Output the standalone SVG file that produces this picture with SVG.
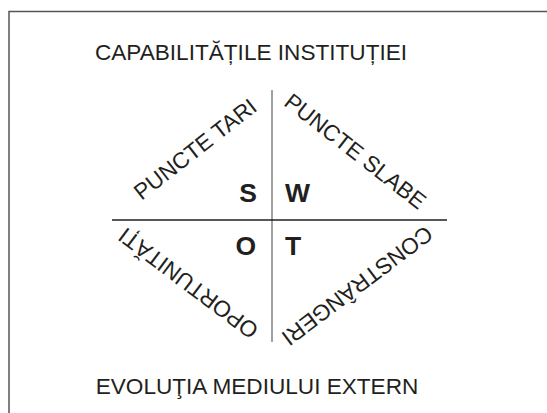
<svg xmlns="http://www.w3.org/2000/svg" width="547" height="413" viewBox="0 0 547 413">
<style>
.t{font-family:"Liberation Sans",Arial,sans-serif;font-size:22.6px;fill:#231f20}
.b{font-family:"Liberation Sans",Arial,sans-serif;font-size:26.5px;font-weight:bold;fill:#231f20}
.frame{fill:none;stroke:#555;stroke-width:1.5}
</style>
<rect width="547" height="413" fill="#fff"/>
<g id="frame"><path class="frame" d="M9,413 V11.5 H547"/></g>
<g id="connectors">
<line x1="272" y1="90" x2="272" y2="342" stroke="#8a8a8a" stroke-width="1.6"/>
<line x1="112" y1="220" x2="447" y2="220" stroke="#231f20" stroke-width="1.3"/>
</g>
<g id="title"><text class="t" x="251" y="60" text-anchor="middle">CAPABILITĂȚILE INSTITUȚIEI</text></g>
<g id="bottom"><text class="t" x="257" y="394" text-anchor="middle">EVOLUŢIA MEDIULUI EXTERN</text></g>
<g id="strengths">
<text class="t" text-anchor="middle" transform="translate(200,155.4) rotate(-38)">PUNCTE TARI</text>
<text class="b" x="257" y="202" text-anchor="end">S</text>
</g>
<g id="weaknesses">
<text class="t" text-anchor="middle" transform="translate(350.5,157.4) rotate(38)">PUNCTE SLABE</text>
<text class="b" x="285" y="202">W</text>
</g>
<g id="opportunities">
<text class="t" text-anchor="middle" transform="translate(192.9,277) rotate(217)">OPORTUNITĂȚI</text>
<text class="b" x="256" y="255" text-anchor="end">O</text>
</g>
<g id="threats">
<text class="t" text-anchor="middle" transform="translate(352.6,279.5) rotate(143)">CONSTRÂNGERI</text>
<text class="b" x="285" y="255">T</text>
</g>
</svg>
